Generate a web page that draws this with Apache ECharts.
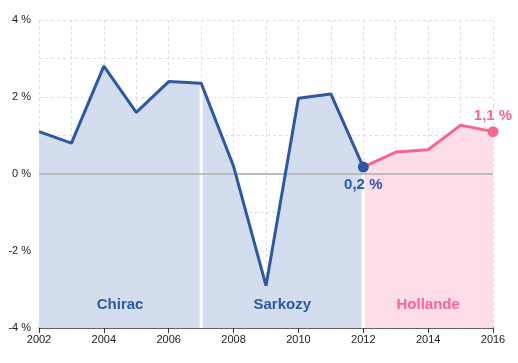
<!DOCTYPE html>
<html>
<head>
<meta charset="utf-8">
<script src="https://cdn.jsdelivr.net/npm/echarts@6/dist/echarts.min.js"></script>
<style>html,body{margin:0;padding:0;background:#fff}#c{width:518px;height:363px}</style>
</head>
<body>
<div id="c"></div>
<script>
const years = [2002,2003,2004,2005,2006,2007,2008,2009,2010,2011,2012,2013,2014,2015,2016];
const growth = [1.1,0.8,2.8,1.6,2.4,2.36,0.2,-2.9,1.97,2.08,0.18,0.57,0.63,1.27,1.1];
const periodNames = ['Chirac','Sarkozy','Hollande'];
const periodStart = [2002,2007,2012];
const periodEnd = [2007,2012,2016];

const BLUE = '#2c58a6', BLUE_AREA = '#d4ddee';
const PINK = '#f7668f', PINK_AREA = '#fddde7';
const periodColor = [BLUE, BLUE, PINK];
const periodArea = [BLUE_AREA, BLUE_AREA, PINK_AREA];
const FONT = 'Liberation Sans, Arial, sans-serif';

function pts(a, b) {
  const out = [];
  years.forEach((y, i) => { if (y >= a && y <= b) out.push([y, growth[i]]); });
  return out;
}
function valAt(yr) { return growth[years.indexOf(yr)]; }
function fmt(v) { return v.toFixed(1).replace('.', ',') + ' %'; }

const series = [];
periodNames.forEach((name, k) => {
  series.push({
    type: 'line', name: name + '-area', data: pts(periodStart[k], periodEnd[k]),
    symbol: 'none', lineStyle: { width: 0, opacity: 0 },
    areaStyle: { color: periodArea[k], opacity: 1, origin: 'start' },
    z: 1, silent: true,
    markArea: {
      silent: true,
      itemStyle: { color: 'rgba(0,0,0,0)' },
      label: { show: true, position: 'insideBottom', distance: 16, color: periodColor[k],
               fontWeight: 'bold', fontSize: 15, fontFamily: FONT },
      data: [[{ name: name, coord: [periodStart[k], -4] }, { coord: [periodEnd[k], 4] }]]
    }
  });
  if (k > 0) {
    series.push({
      type: 'line', data: [[periodStart[k], -4], [periodStart[k], valAt(periodStart[k])]],
      symbol: 'none', silent: true, z: 2,
      lineStyle: { color: '#ffffff', width: 3 }
    });
  }
});

series.push({
  type: 'line', data: [[2002, 0], [2016, 0]], z: 2, silent: true, symbol: 'none',
  lineStyle: { color: '#bbbbbb', width: 2 }
});

function lineSeries(a, b, color, z, labelPos) {
  const data = pts(a, b);
  const last = data.length - 1;
  return {
    type: 'line', data: data, z: z,
    symbol: 'circle', showSymbol: true,
    symbolSize: (v, p) => p.dataIndex === last ? 11 : 0,
    itemStyle: { color: color },
    lineStyle: { color: color, width: 3 },
    label: {
      show: true, position: labelPos, distance: labelPos === 'top' ? 3 : 5, color: color,
      fontWeight: 'bold', fontSize: 15, fontFamily: FONT,
      formatter: p => p.dataIndex === last ? fmt(p.value[1]) : ''
    }
  };
}
series.push(lineSeries(2012, 2016, PINK, 3, 'top'));
series.push(lineSeries(2002, 2012, BLUE, 4, 'bottom'));

const gridLine = { show: true, lineStyle: { color: '#dddddd', type: [3, 3], width: 1 } };
const chart = echarts.init(document.getElementById('c'));
chart.setOption({
  animation: false,
  grid: { left: 39, right: 25, top: 20, bottom: 35 },
  xAxis: {
    type: 'value', min: 2002, max: 2016, interval: 2,
    axisLine: { onZero: false, lineStyle: { color: '#333', width: 1.5 } },
    axisTick: { show: true, length: 5, lineStyle: { color: '#333' } },
    minorTick: { show: false, splitNumber: 2 },
    axisLabel: { color: '#222', fontSize: 11, fontFamily: FONT, margin: 6, formatter: v => String(v) },
    splitLine: gridLine,
    minorSplitLine: gridLine
  },
  yAxis: {
    type: 'value', min: -4, max: 4, interval: 2,
    axisLine: { show: false }, axisTick: { show: false },
    minorTick: { show: false, splitNumber: 2 },
    axisLabel: { color: '#222', fontSize: 11, fontFamily: FONT, formatter: v => v + ' %', margin: 8 },
    splitLine: gridLine,
    minorSplitLine: gridLine
  },
  series: series
});
</script>
</body>
</html>
